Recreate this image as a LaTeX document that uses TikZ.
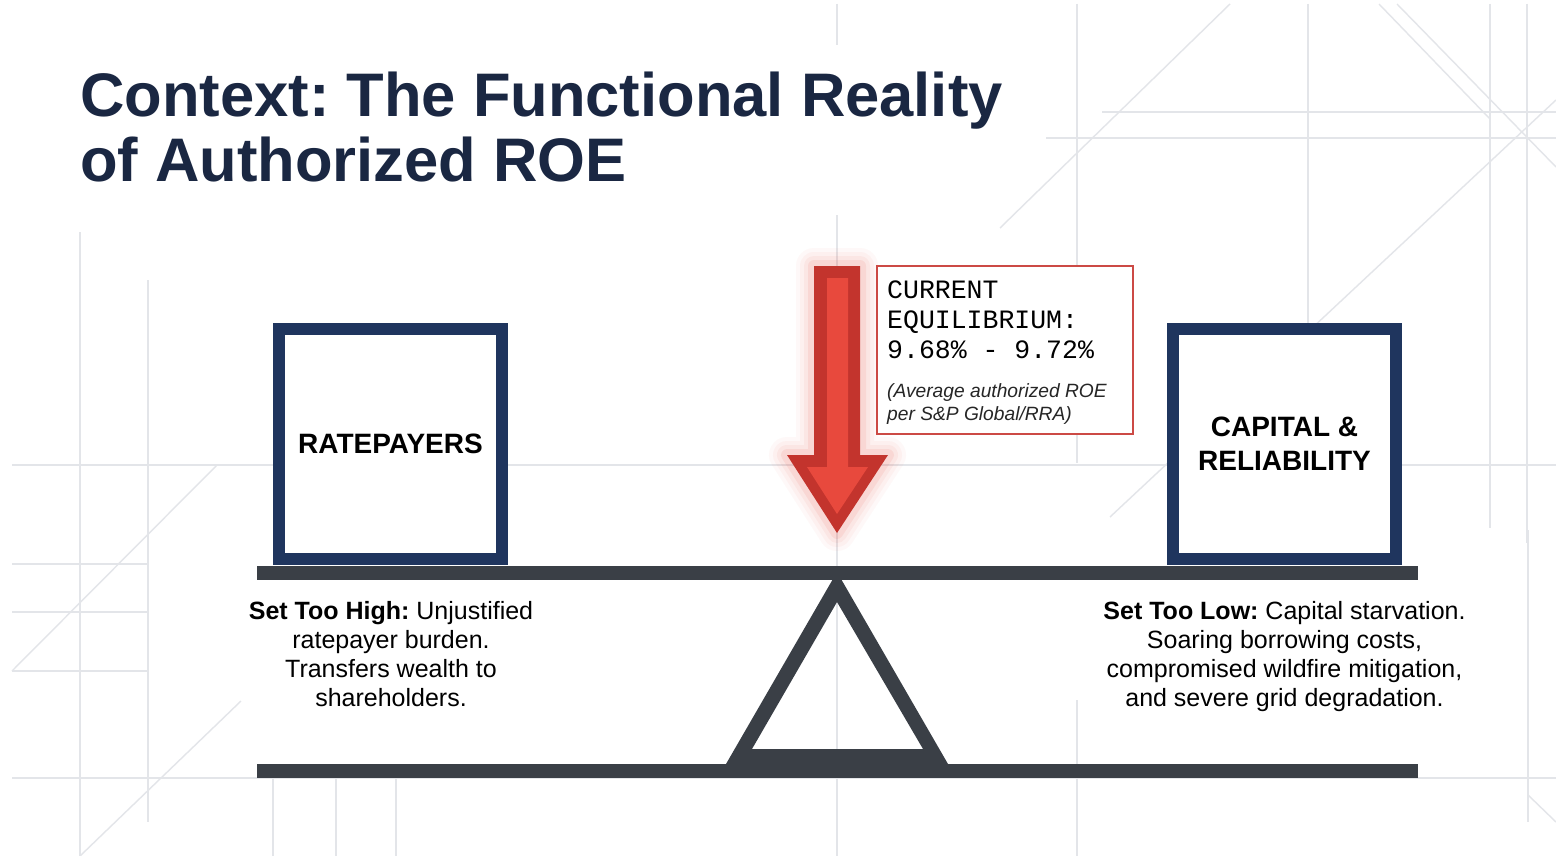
\documentclass[tikz,border=0pt]{standalone}
\usepackage{fontspec}
\setmainfont{Liberation Sans}
\newfontfamily\calloutmono{Liberation Mono}
\definecolor{navy}{HTML}{1F355E}
\definecolor{titlecol}{HTML}{1A2742}
\definecolor{beamcol}{HTML}{3A3F46}
\definecolor{gridcol}{HTML}{E3E5E9}
\definecolor{darkred}{HTML}{C3342D}
\definecolor{brightred}{HTML}{E8493D}
\definecolor{calloutred}{HTML}{CC4A45}
\frenchspacing
\begin{document}
\frenchspacing
\begin{tikzpicture}[x=1pt,y=-1pt,
  gridline/.style={gridcol, line width=1.4pt},
  titletext/.style={anchor=base west, inner sep=0pt, text=titlecol, font=\bfseries\fontsize{61.5}{65}\selectfont},
  weightbox/.style={draw=navy, line width=12pt, fill=white, rectangle, minimum width=223pt, minimum height=230pt, inner sep=0pt, align=center, font=\bfseries\fontsize{28}{34}\selectfont},
  bottomtext/.style={anchor=base, inner sep=0pt, font=\fontsize{25}{29}\selectfont},
  monotext/.style={anchor=base west, inner sep=0pt, font=\calloutmono\fontsize{26.5}{30}\selectfont},
  notetext/.style={anchor=base west, inner sep=0pt, font=\itshape\fontsize{19.2}{23}\selectfont, text=black!85}
]
\useasboundingbox (0,0) rectangle (1556,856);
\fill[white] (0,0) rectangle (1556,856);

% background construction lines
\draw[gridline] (80,232) -- (80,856);
\draw[gridline] (148,280) -- (148,822);
\draw[gridline] (273,778) -- (273,856);
\draw[gridline] (336,778) -- (336,856);
\draw[gridline] (396,778) -- (396,856);
\draw[gridline] (837,4) -- (837,45);
\draw[gridline] (837,215) -- (837,856);
\draw[gridline] (1077,4) -- (1077,463);
\draw[gridline] (1077,700) -- (1077,856);
\draw[gridline] (1308,4) -- (1308,330);
\draw[gridline] (1490,4) -- (1490,528);
\draw[gridline] (1527,4) -- (1527,543);
\draw[gridline] (1528,530) -- (1528,822);
\draw[gridline] (1102,112) -- (1556,112);
\draw[gridline] (1046,138) -- (1556,138);
\draw[gridline] (12,465) -- (1556,465);
\draw[gridline] (12,564) -- (148,564);
\draw[gridline] (12,612) -- (148,612);
\draw[gridline] (12,671) -- (148,671);
\draw[gridline] (12,778) -- (1556,778);
\draw[gridline] (1230,4) -- (1000,228);
\draw[gridline] (1379,4) -- (1490,119);
\draw[gridline] (1397,4) -- (1556,167);
\draw[gridline] (1110,517) -- (1556,100);
\draw[gridline] (12,671) -- (217,465);
\draw[gridline] (241,701) -- (80,856);
\draw[gridline] (1528,795) -- (1556,822);

% title
\node[titletext] (title1) at (80,117) {Context: The Functional Reality};
\node[titletext] (title2) at (80,182) {of Authorized ROE};

% seesaw
\fill[beamcol] (257,566) rectangle (1418,580);
\fill[beamcol] (257,764) rectangle (1418,778);
\fill[beamcol, even odd rule] (837,572) -- (948,764) -- (726,764) -- cycle
  (837,602) -- (923,749) -- (752,749) -- cycle;
\coordinate (fulcrum) at (837,572);

% weights
\node[weightbox] (ratepayers) at (390.5,444) {RATEPAYERS};
\node[weightbox] (capital) at (1284.5,444) {CAPITAL \&\\RELIABILITY};

% red arrow with glow
\foreach \w/\o in {36/0.035, 28/0.045, 20/0.06, 12/0.09} {
  \draw[brightred, line width=\w pt, opacity=\o, line join=round]
    (814,266) -- (860,266) -- (860,455) -- (888,455) -- (837,533) -- (787,455) -- (814,455) -- cycle;
}
\fill[darkred] (814,266) -- (860,266) -- (860,455) -- (888,455) -- (837,533) -- (787,455) -- (814,455) -- cycle;
\fill[brightred] (827,278) -- (848,278) -- (848,467) -- (868,467) -- (837,514) -- (807,467) -- (827,467) -- cycle;

% callout
\node[draw=calloutred, line width=2.5pt, fill=white, rectangle, minimum width=256pt, minimum height=168pt, inner sep=0pt] (callout) at (1005,350) {};
\node[monotext] (c1) at (887,298) {CURRENT};
\node[monotext] (c2) at (887,328) {EQUILIBRIUM:};
\node[monotext] (c3) at (887,358) {9.68\% - 9.72\%};
\node[notetext] (n1) at (887,397) {(Average authorized ROE};
\node[notetext] (n2) at (887,420) {per S\&P Global/RRA)};

% captions
\node[bottomtext] (l1) at (391,619) {\textbf{Set Too High:} Unjustified};
\node[bottomtext] (l2) at (391,648) {ratepayer burden.};
\node[bottomtext] (l3) at (391,677) {Transfers wealth to};
\node[bottomtext] (l4) at (391,706) {shareholders.};
\node[bottomtext] (r1) at (1284.5,619) {\textbf{Set Too Low:} Capital starvation.};
\node[bottomtext] (r2) at (1284.5,648) {Soaring borrowing costs,};
\node[bottomtext] (r3) at (1284.5,677) {compromised wildfire mitigation,};
\node[bottomtext] (r4) at (1284.5,706) {and severe grid degradation.};
\end{tikzpicture}
\end{document}
